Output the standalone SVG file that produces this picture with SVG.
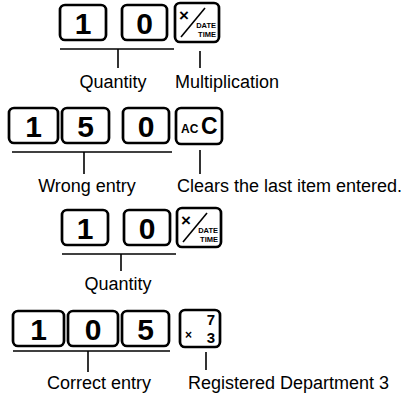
<svg xmlns="http://www.w3.org/2000/svg" width="411" height="399" viewBox="0 0 411 399">
<style>
.key{fill:#fff;stroke:#000;stroke-width:2.7}
.dig{font-family:"Liberation Sans",Arial,sans-serif;font-weight:bold;font-size:30px;text-anchor:middle;fill:#000}
.sm{font-family:"Liberation Sans",Arial,sans-serif;font-weight:bold;fill:#000}
.lbl{font-family:"Liberation Sans",Arial,sans-serif;font-size:18px;fill:#000}
.ln{stroke:#000;stroke-width:1.6;fill:none}
</style>
<rect width="411" height="399" fill="#fff"/>
<!-- Row 1 -->
<g id="r1k1"><rect class="key" x="60" y="5" width="46" height="35" rx="5"/><text class="dig" x="83" y="33.5">1</text></g>
<g id="r1k0"><rect class="key" x="122" y="5" width="45" height="35" rx="5"/><text class="dig" x="144.5" y="33.5">0</text></g>
<g id="r1kx"><rect class="key" x="175" y="3" width="44" height="39" rx="5"/><text class="sm" x="179" y="21" font-size="17">×</text><line class="ln" x1="181" y1="37" x2="205" y2="8"/><text class="sm" x="216" y="28" font-size="7.5" text-anchor="end">DATE</text><text class="sm" x="216" y="37" font-size="7.5" text-anchor="end">TIME</text></g>
<!-- Row 2 -->
<g id="r2k1"><rect class="key" x="9" y="108" width="49" height="35" rx="5"/><text class="dig" x="33.5" y="136.5">1</text></g>
<g id="r2k5"><rect class="key" x="62" y="108" width="47" height="35" rx="5"/><text class="dig" x="85.5" y="136.5">5</text></g>
<g id="r2k0"><rect class="key" x="123" y="108" width="46" height="35" rx="5"/><text class="dig" x="146" y="136.5">0</text></g>
<g id="r2kac"><rect class="key" x="176" y="108" width="46" height="36" rx="5"/><text class="sm" x="181" y="133" font-size="12">AC</text><text class="sm" x="201" y="134" font-size="23">C</text></g>
<!-- Row 3 -->
<g id="r3k1"><rect class="key" x="62" y="210" width="46" height="35" rx="5"/><text class="dig" x="85" y="238.5">1</text></g>
<g id="r3k0"><rect class="key" x="124" y="210" width="46" height="35" rx="5"/><text class="dig" x="147" y="238.5">0</text></g>
<g id="r3kx"><rect class="key" x="177" y="208" width="44" height="39" rx="5"/><text class="sm" x="181" y="226" font-size="17">×</text><line class="ln" x1="183" y1="242" x2="207" y2="213"/><text class="sm" x="218" y="233" font-size="7.5" text-anchor="end">DATE</text><text class="sm" x="218" y="242" font-size="7.5" text-anchor="end">TIME</text></g>
<!-- Row 4 -->
<g id="r4k1"><rect class="key" x="13" y="311" width="51" height="35" rx="5"/><text class="dig" x="38.5" y="339.5">1</text></g>
<g id="r4k0"><rect class="key" x="68" y="311" width="50" height="35" rx="5"/><text class="dig" x="93" y="339.5">0</text></g>
<g id="r4k5"><rect class="key" x="122" y="311" width="47" height="35" rx="5"/><text class="dig" x="145.5" y="339.5">5</text></g>
<g id="r4kd3"><rect class="key" x="180" y="310" width="40" height="37" rx="5"/><text class="sm" x="185" y="339" font-size="12">×</text><text class="sm" x="211" y="325" font-size="15" text-anchor="middle">7</text><text class="sm" x="211" y="343" font-size="15" text-anchor="middle">3</text></g>
<!-- Connectors -->
<g id="connectors">
<line class="ln" x1="60" y1="49" x2="174" y2="49"/>
<line class="ln" x1="118" y1="49" x2="118" y2="68"/>
<line class="ln" x1="200" y1="51" x2="200" y2="68"/>
<line class="ln" x1="12" y1="152" x2="172" y2="152"/>
<line class="ln" x1="84" y1="152" x2="84" y2="174"/>
<line class="ln" x1="200" y1="150" x2="200" y2="174"/>
<line class="ln" x1="62" y1="254" x2="176" y2="254"/>
<line class="ln" x1="121" y1="254" x2="121" y2="271"/>
<line class="ln" x1="13" y1="351" x2="170" y2="351"/>
<line class="ln" x1="88" y1="351" x2="88" y2="372"/>
<line class="ln" x1="206" y1="352" x2="206" y2="370"/>
</g>
<!-- Labels -->
<g id="labels">
<text class="lbl" x="113" y="88" text-anchor="middle">Quantity</text>
<text class="lbl" x="175" y="88">Multiplication</text>
<text class="lbl" x="87" y="192" text-anchor="middle">Wrong entry</text>
<text class="lbl" x="177" y="192">Clears the last item entered.</text>
<text class="lbl" x="118" y="290" text-anchor="middle">Quantity</text>
<text class="lbl" x="99" y="389" text-anchor="middle">Correct entry</text>
<text class="lbl" x="188" y="389">Registered Department 3</text>
</g>
</svg>
